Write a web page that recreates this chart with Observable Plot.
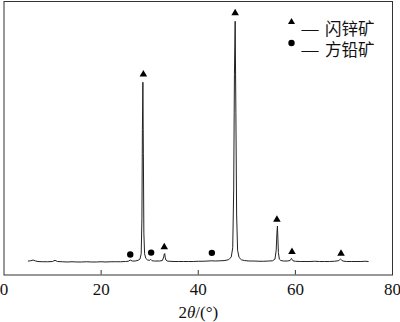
<!DOCTYPE html>
<html>
<head>
<meta charset="utf-8">
<script src="https://cdn.jsdelivr.net/npm/d3@7"></script>
<script src="https://cdn.jsdelivr.net/npm/@observablehq/plot@0.6"></script>
<style>
  html, body { margin: 0; padding: 0; background: #fff; }
  #chart svg { display: block; }
  #chart svg text { font-family: "Liberation Serif", "Times New Roman", serif !important; }
  #chart svg .cjk text, #chart svg text.cjk { font-family: "Noto Sans CJK SC", sans-serif !important; }
</style>
</head>
<body>
<div id="chart"></div>
<script>
const twoTheta = [5.0, 5.5, 6.0, 6.5, 7.0, 8.0, 9.0, 10.0, 10.5, 11.0, 12.0, 13.0, 14.0, 15.0, 16.0, 17.0, 18.0, 19.0, 20.0, 21.0, 22.0, 23.0, 24.0, 25.0, 25.6, 26.0, 26.4, 27.0, 27.6, 28.0, 28.25, 28.4, 28.5, 28.6, 28.7, 28.8, 28.95, 29.2, 29.6, 30.0, 30.2, 30.5, 31.0, 31.5, 32.0, 32.6, 32.9, 33.0, 33.1, 33.2, 33.35, 33.6, 34.0, 35.0, 36.0, 37.0, 38.0, 39.0, 40.0, 41.0, 42.0, 42.8, 43.5, 44.5, 45.5, 46.3, 46.8, 47.1, 47.3, 47.45, 47.6, 47.75, 47.9, 48.1, 48.4, 48.9, 49.5, 50.5, 51.5, 52.5, 53.5, 54.5, 55.3, 55.8, 56.05, 56.2, 56.3, 56.4, 56.5, 56.7, 57.0, 57.6, 58.3, 58.9, 59.1, 59.2, 59.3, 59.5, 60.0, 61.0, 62.0, 63.0, 64.0, 65.0, 66.0, 67.0, 68.0, 68.8, 69.1, 69.3, 69.5, 69.8, 70.5, 71.5, 72.5, 73.5, 74.3, 75.0];
const intensity = [0.5, 0.6, 0.9, 0.5, 0.3, 0.2, 0.2, 0.3, 0.8, 0.3, 0.2, 0.1, 0.2, 0.1, 0.1, 0.2, 0.1, 0.1, 0.2, 0.1, 0.2, 0.2, 0.2, 0.3, 0.4, 0.9, 0.5, 0.5, 0.8, 1.3, 3.5, 18, 55, 74.7, 45, 12, 3.5, 1.6, 0.9, 0.8, 1.2, 0.6, 0.5, 0.5, 0.5, 0.7, 2.2, 3.4, 3.6, 2.0, 0.9, 0.5, 0.4, 0.3, 0.3, 0.3, 0.3, 0.3, 0.4, 0.4, 0.5, 0.6, 0.5, 0.6, 0.7, 1.1, 2.2, 6, 30, 78, 100, 62, 20, 5, 2.0, 1.0, 0.7, 0.5, 0.5, 0.4, 0.4, 0.5, 0.6, 1.3, 5, 12, 15, 10, 4, 1.3, 0.7, 0.5, 0.5, 0.7, 1.3, 1.6, 1.2, 0.6, 0.4, 0.3, 0.3, 0.3, 0.4, 0.3, 0.3, 0.3, 0.4, 0.6, 1.0, 1.3, 0.9, 0.5, 0.3, 0.3, 0.3, 0.3, 0.4, 0.3];

// phase markers: 闪锌矿 (zinc blende, ▲) and 方铅矿 (galena, ●)
const sphaleriteX = [28.7, 33.0, 47.6, 56.2, 59.3, 69.4];
const sphaleriteY = [78.0, 6.3, 103.4, 17.7, 4.3, 3.6];
const galenaX = [26.0, 30.3, 42.8];
const galenaY = [3.2, 4.0, 3.9];

const xTicks = [0, 20, 40, 60, 80];
const legendLabels = ["闪锌矿", "方铅矿"];
const legendSymbols = ["triangle", "circle"];
const xLabel = "2θ/(°)";

const pattern = twoTheta.map((t, i) => ({t, v: intensity[i]}));
const sphalerite = sphaleriteX.map((x, i) => ({x, y: sphaleriteY[i]}));
const galena = galenaX.map((x, i) => ({x, y: galenaY[i]}));

const legendMarks = legendLabels.flatMap((label, i) => [
  Plot.dot([label], {frameAnchor: "top-left", dx: 287.5, dy: 20.5 + i * 21,
    symbol: legendSymbols[i], r: legendSymbols[i] === "triangle" ? 2.6 : 3.2, fill: "#000", stroke: "none"}),
  Plot.text([label], {frameAnchor: "top-left", dx: 306, dy: 20 + i * 21, text: () => "—",
    fontSize: 17, fill: "#111", textAnchor: "middle"}),
  Plot.text([label], {frameAnchor: "top-left", dx: 321, dy: 21.5 + i * 21, text: d => d,
    fontSize: 16.5, fill: "#111", textAnchor: "start", className: "cjk"})
]);

const chart = Plot.plot({
  width: 400,
  height: 322,
  marginLeft: 3.5,
  marginRight: 8,
  marginTop: 1,
  marginBottom: 47.5,
  style: {background: "#fff", overflow: "visible"},
  x: {domain: [0, 80], axis: null},
  y: {domain: [-5.3, 108.2], axis: null},
  marks: [
    Plot.line(pattern, {x: "t", y: "v", stroke: "#222", strokeWidth: 1}),
    Plot.dot(sphalerite, {x: "x", y: "y", symbol: "triangle", r: 2.8, fill: "#000", stroke: "none"}),
    Plot.dot(galena, {x: "x", y: "y", symbol: "circle", r: 3.2, fill: "#000", stroke: "none"}),
    Plot.ruleX(xTicks.filter(d => d > 0 && d < 80), {x: d => d, insetTop: 269, stroke: "#333"}),
    Plot.axisX({ticks: xTicks, tickSize: 0, tickPadding: 8, fontSize: 17, fill: "#111", label: null, tickFormat: d => String(d)}),
    Plot.text([xLabel], {frameAnchor: "bottom", dy: 42.5, text: d => d, fontSize: 17, fill: "#111"}),
    ...legendMarks,
    Plot.frame({stroke: "#333", strokeWidth: 1})
  ]
});

// italicise θ in the axis title
chart.querySelectorAll("text").forEach(t => {
  if (t.textContent === xLabel) {
    t.innerHTML = '2<tspan font-style="italic">θ</tspan>/(°)';
  }
});

document.getElementById("chart").appendChild(chart);
</script>
</body>
</html>
